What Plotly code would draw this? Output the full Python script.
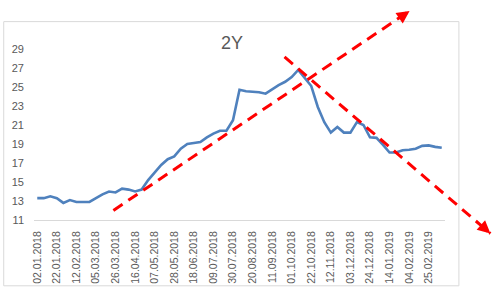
import plotly.graph_objects as go

dates = [
    "02.01.2018", "08.01.2018", "15.01.2018", "22.01.2018", "29.01.2018", "05.02.2018",
    "12.02.2018", "19.02.2018", "26.02.2018", "05.03.2018", "12.03.2018", "19.03.2018",
    "26.03.2018", "02.04.2018", "09.04.2018", "16.04.2018", "23.04.2018", "30.04.2018",
    "07.05.2018", "14.05.2018", "21.05.2018", "28.05.2018", "04.06.2018", "11.06.2018",
    "18.06.2018", "25.06.2018", "02.07.2018", "09.07.2018", "16.07.2018", "23.07.2018",
    "30.07.2018", "06.08.2018", "13.08.2018", "20.08.2018", "27.08.2018", "03.09.2018",
    "11.09.2018", "17.09.2018", "24.09.2018", "01.10.2018", "08.10.2018", "15.10.2018",
    "22.10.2018", "29.10.2018", "05.11.2018", "12.11.2018", "19.11.2018", "26.11.2018",
    "03.12.2018", "10.12.2018", "17.12.2018", "24.12.2018", "31.12.2018", "07.01.2019",
    "14.01.2019", "21.01.2019", "28.01.2019", "04.02.2019", "11.02.2019", "18.02.2019",
    "25.02.2019", "04.03.2019", "11.03.2019",
]

values = [
    13.3, 13.3, 13.5, 13.3, 12.8, 13.1, 12.9, 12.9, 12.9, 13.3, 13.7, 14.0,
    13.9, 14.3, 14.2, 14.0, 14.2, 15.2, 16.0, 16.8, 17.4, 17.7, 18.5, 19.0,
    19.1, 19.2, 19.7, 20.1, 20.4, 20.4, 21.5, 24.7, 24.55, 24.5, 24.45, 24.3,
    24.75, 25.2, 25.55, 26.05, 26.8, 25.9, 25.1, 22.9, 21.3, 20.2, 20.8, 20.2,
    20.2, 21.3, 21.0, 19.7, 19.65, 18.9, 18.1, 18.1, 18.35, 18.4, 18.5, 18.8,
    18.85, 18.7, 18.6,
]

tick_labels = dates[::3]
y_ticks = [11, 13, 15, 17, 19, 21, 23, 25, 27, 29]
title_text = "2Y"

# trend arrows in data units: (category index, value)
arrow_up = [(11.67, 12.01), (57.07, 33.01)]
arrow_down = [(37.90, 28.16), (69.46, 9.58)]

# layout geometry (pixels)
W, H = 500, 296
ML, MR, MT, MB = 31, 55, 49, 69
PW, PH = W - ML - MR, H - MT - MB
N = len(dates)
YMIN, YMAX = 11, 29


def to_paper(xi, v):
    return (xi + 0.5) / N, (v - YMIN) / (YMAX - YMIN)


def px_to_paper(px, py):
    return (px - ML) / PW, (H - MB - py) / PH


FONT = "Liberation Sans Narrow, Arial Narrow, Liberation Sans, sans-serif"
GRAY = "#595959"
RED = "#FF0000"

fig = go.Figure()
fig.add_trace(go.Scatter(
    x=dates, y=values, mode="lines",
    line=dict(color="#4F81BD", width=2.6),
    hoverinfo="skip",
))

shapes = []
annotations = []

# chart border
bx0, by0 = px_to_paper(0.5, 20.5)
bx1, by1 = px_to_paper(459, 295.5)
shapes.append(dict(type="rect", xref="paper", yref="paper",
                   x0=bx0, y0=by1, x1=bx1, y1=by0,
                   line=dict(color="#D9D9D9", width=1), layer="below"))

for arrow in (arrow_up, arrow_down):
    (xa, ya), (xb, yb) = to_paper(*arrow[0]), to_paper(*arrow[1])
    shapes.append(dict(type="line", xref="paper", yref="paper",
                       x0=xa, y0=ya, x1=xb, y1=yb,
                       line=dict(color=RED, width=3, dash="11px,7px")))
    # arrowhead direction in pixels
    dxp = (xb - xa) * PW
    dyp = -(yb - ya) * PH
    L = (dxp ** 2 + dyp ** 2) ** 0.5
    ux, uy = dxp / L, dyp / L
    annotations.append(dict(xref="paper", yref="paper", x=xb, y=yb,
                            ax=-ux * 8, ay=-uy * 8, text="", showarrow=True,
                            arrowhead=2, arrowsize=0.85, arrowwidth=3,
                            arrowcolor=RED, standoff=0, startstandoff=0))

tx, ty = px_to_paper(230, 42.7)
annotations.append(dict(xref="paper", yref="paper", x=tx, y=ty,
                        xanchor="center", yanchor="middle", showarrow=False,
                        text=title_text, font=dict(family=FONT, size=18, color=GRAY)))

fig.update_layout(
    width=W, height=H,
    margin=dict(l=ML, r=MR, t=MT, b=MB, pad=0),
    paper_bgcolor="white", plot_bgcolor="white",
    showlegend=False,
    shapes=shapes, annotations=annotations,
    xaxis=dict(
        type="category", range=[-0.5, N - 0.5],
        tickmode="array", tickvals=tick_labels, ticktext=tick_labels,
        tickangle=-90, showgrid=False, zeroline=False,
        showline=True, linecolor="#D9D9D9", linewidth=1,
        ticks="", ticklabelstandoff=6,
        tickfont=dict(family=FONT, size=10.5, color=GRAY),
    ),
    yaxis=dict(
        range=[YMIN, YMAX], tickmode="array", tickvals=y_ticks,
        showgrid=False, zeroline=False, showline=False, ticks="",
        ticklabelstandoff=9,
        tickfont=dict(family=FONT, size=11, color=GRAY),
    ),
)

fig.write_html("out.html")
